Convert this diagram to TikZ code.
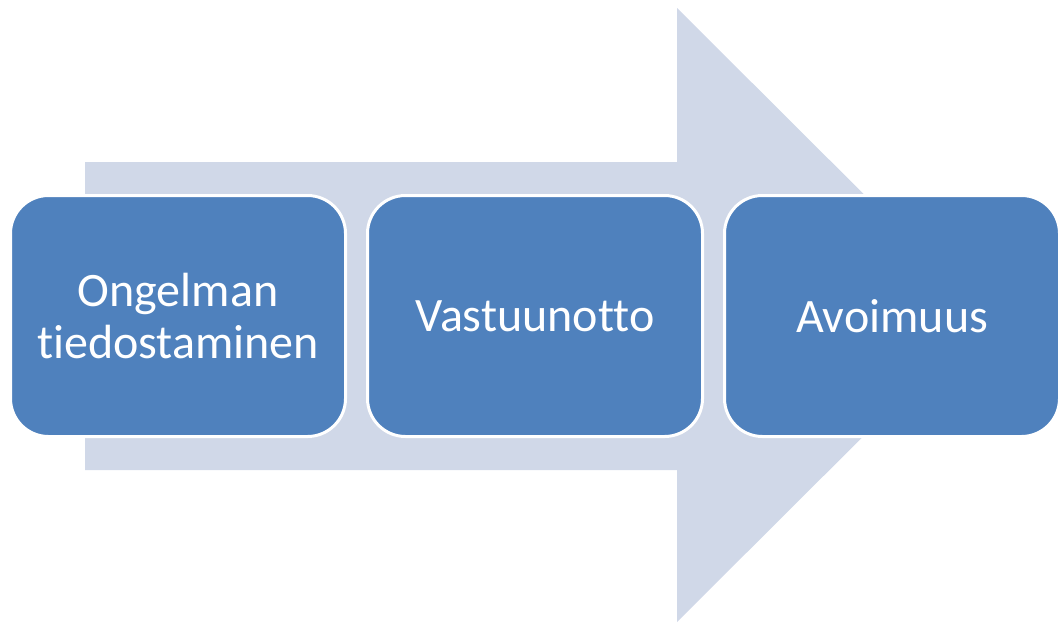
\documentclass[tikz,border=0pt]{standalone}
\usepackage{fontspec}
\setmainfont[Ligatures=NoCommon]{Carlito}
\usetikzlibrary{positioning}
\definecolor{stepblue}{HTML}{4F81BD}
\definecolor{arrowgray}{HTML}{D0D8E8}
\tikzset{
  stepbox/.style={draw=white, line width=3pt, fill=stepblue, rounded corners=38pt,
    minimum width=335pt, minimum height=241pt, text=white, align=center,
    font=\fontsize{48}{52}\selectfont}
}
\begin{document}
\begin{tikzpicture}[x=1pt,y=-1pt]
\useasboundingbox (0,0) rectangle (1062,622);
% big background arrow
\fill[arrowgray] (85,162) -- (677,162) -- (677,8) -- (985,315) -- (677,622) -- (677,470) -- (85,470) -- cycle;

\node[stepbox] (tiedostus) at (178,316) {Ongelman\\tiedostaminen};
\node[stepbox, right=19pt of tiedostus] (vastuu) {Vastuunotto};
\node[stepbox, right=19pt of vastuu] (avoimuus) {Avoimuus};
\end{tikzpicture}
\end{document}
